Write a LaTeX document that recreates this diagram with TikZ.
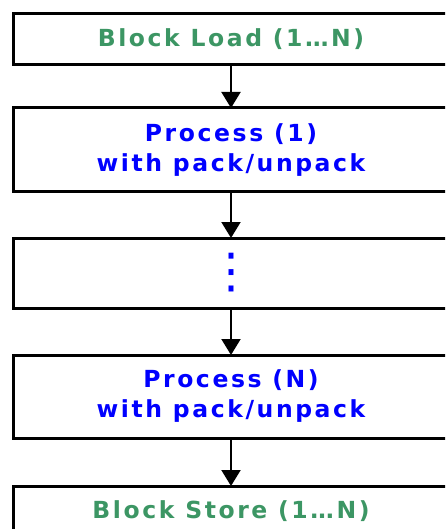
\documentclass[tikz,border=0pt]{standalone}
\usepackage{fontspec}
\setmainfont[LetterSpace=11]{DejaVu Sans}
\newfontfamily\dotsfont{DejaVu Sans}
\usetikzlibrary{arrows.meta,positioning}
\definecolor{loadgreen}{RGB}{60,150,100}
\definecolor{procblue}{RGB}{0,0,255}

\begin{document}
\begin{tikzpicture}[
    x=1pt, y=1pt,
    blk/.style={rectangle, draw=black, line width=3pt, outer sep=0pt, inner sep=0pt, minimum width=436pt, align=center, font=\fontsize{23.5}{30}\selectfont\bfseries},
    io/.style={blk, minimum height=51pt, text=loadgreen},
    proc/.style={blk, minimum height=84pt, text=procblue},
    arr/.style={-{Triangle[width=19pt,length=16pt]}, line width=2pt, draw=black}
]
    \useasboundingbox (0,0) rectangle (445,-529);
    \clip (0,0) rectangle (445,-529);

    \node [io] (load) at (231,-39.5) {Block Load (1…N)};
    \node [proc, below=43pt of load] (p1) {Process (1)\\with pack/unpack};
    \node [proc, minimum height=70pt, below=46pt of p1] (gap) {\dotsfont\mdseries\fontsize{48}{48}\selectfont ⋮};
    \node [proc, minimum height=83pt, below=47pt of gap] (pn) {Process (N)\\with pack/unpack};
    \node [io, below=48pt of pn] (store) {Block Store (1…N)};

    \draw [arr] (load) -- (p1);
    \draw [arr] (p1) -- (gap);
    \draw [arr] (gap) -- (pn);
    \draw [arr] (pn) -- (store);
\end{tikzpicture}
\end{document}
